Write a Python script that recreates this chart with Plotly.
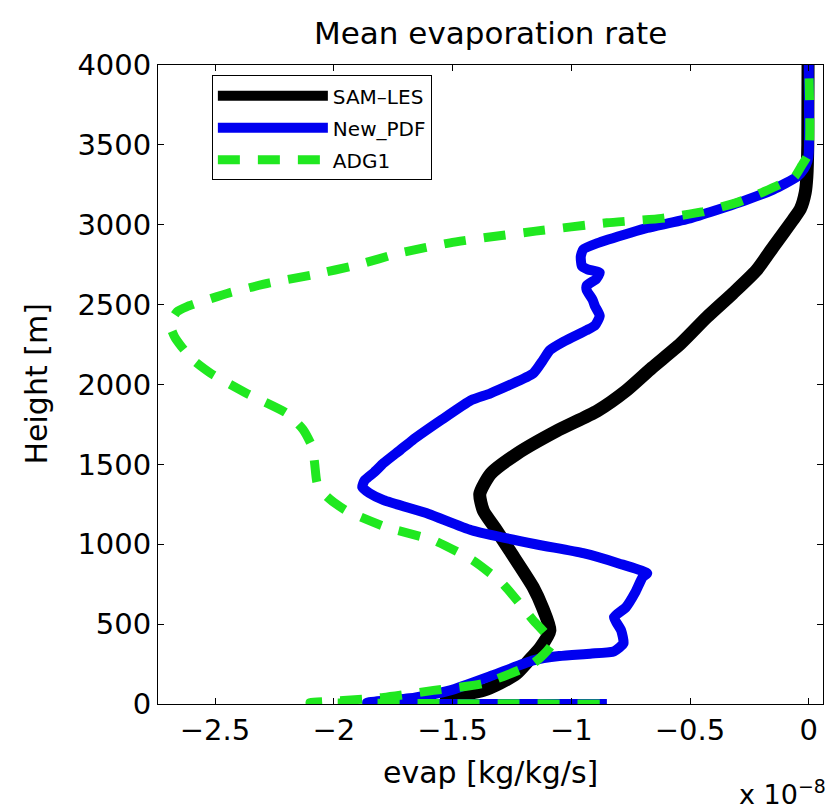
import plotly.graph_objects as go

# ---- data (evap in units of 1e-8 kg/kg/s, height in m) ----
sam_h = [22, 41, 85, 130, 191, 270, 354, 461, 600, 730, 962, 1100, 1210, 1315, 1440, 1565, 1710,
         1835, 1960, 2105, 2255, 2420, 2570, 2715, 2860, 3030, 3100, 3200, 3300, 3500, 4000]
sam_v = [-1.55, -1.51, -1.37, -1.30, -1.23, -1.18, -1.13, -1.09, -1.12, -1.16, -1.26, -1.32, -1.37,
         -1.385, -1.34, -1.23, -1.06, -0.89, -0.77, -0.66, -0.54, -0.43, -0.32, -0.22, -0.15, -0.067,
         -0.035, -0.015, -0.008, -0.004, -0.003]

pdf_h = [0, 8, 40, 85, 180, 273, 300, 315, 330, 380, 461, 543, 605, 700, 793, 818, 880, 944, 1000,
         1088, 1190, 1276, 1320, 1357, 1400, 1450, 1508, 1590, 1650, 1775, 1903, 1945, 2070, 2150,
         2215, 2270, 2340, 2370, 2430, 2490, 2530, 2590, 2620, 2660, 2700, 2720, 2740, 2800, 2845,
         2885, 2950, 2980, 3040, 3140, 3220, 3300, 3350, 3400, 3450, 4000]
pdf_v = [-0.85, -1.86, -1.66, -1.51, -1.33, -1.16, -1.05, -0.92, -0.82, -0.78, -0.79, -0.82, -0.77,
         -0.73, -0.70, -0.68, -0.80, -0.95, -1.15, -1.42, -1.60, -1.79, -1.85, -1.88, -1.87, -1.83,
         -1.79, -1.72, -1.67, -1.55, -1.42, -1.34, -1.16, -1.12, -1.09, -1.03, -0.935, -0.90, -0.88,
         -0.90, -0.91, -0.935, -0.935, -0.895, -0.88, -0.93, -0.955, -0.96, -0.95, -0.89, -0.75,
         -0.68, -0.50, -0.29, -0.15, -0.05, -0.02, -0.005, 0.0, 0.0]

adg_h = [0, 9, 22, 41, 85, 129, 254, 380, 524, 755, 900, 1025, 1107, 1213, 1300, 1383, 1500, 1608,
         1720, 1822, 1947, 2072, 2150, 2235, 2298, 2380, 2455, 2486, 2574, 2636, 2686, 2749, 2824,
         2887, 2920, 2960, 3012, 3040, 3080, 3140, 3200, 3300, 3370, 3450, 4000]
adg_v = [-0.88, -2.10, -1.96, -1.79, -1.58, -1.37, -1.16, -1.08, -1.16, -1.29, -1.415, -1.58, -1.78,
         -1.95, -2.03, -2.07, -2.08, -2.09, -2.13, -2.20, -2.37, -2.52, -2.59, -2.64, -2.67, -2.69,
         -2.66, -2.62, -2.44, -2.27, -2.09, -1.90, -1.72, -1.51, -1.36, -1.15, -0.85, -0.62, -0.45,
         -0.30, -0.20, -0.06, -0.03, 0.0, 0.0]

x_ticks = [-2.5, -2, -1.5, -1, -0.5, 0]
x_ticklabels = ["\u22122.5", "\u22122", "\u22121.5", "\u22121", "\u22120.5", "0"]
y_ticks = [0, 500, 1000, 1500, 2000, 2500, 3000, 3500, 4000]

FONT = "DejaVu Sans, Liberation Sans, Arial, sans-serif"

fig = go.Figure()
fig.add_trace(go.Scatter(x=sam_v, y=sam_h, mode="lines", name="SAM\u2013LES", legendgroup="a",
                         cliponaxis=False,
                         line=dict(color="#000000", width=13, shape="spline", smoothing=0.6)))
fig.add_trace(go.Scatter(x=pdf_v, y=pdf_h, mode="lines", name="New_PDF", legendgroup="b",
                         cliponaxis=False,
                         line=dict(color="#0000f0", width=10, shape="spline", smoothing=0.5)))
fig.add_trace(go.Scatter(x=adg_v, y=adg_h, mode="lines", name="ADG1", legendgroup="c",
                         cliponaxis=False,
                         line=dict(color="#20e820", width=9, dash="22px,18px",
                                   shape="spline", smoothing=0.5)))

fig.update_layout(
    width=829, height=811,
    margin=dict(l=158, r=6, t=65, b=107),
    paper_bgcolor="white", plot_bgcolor="white",
    font=dict(family=FONT, color="black", size=29),
    showlegend=True,
    legend=dict(x=0.081, y=0.984, xanchor="left", yanchor="top",
                bgcolor="white", bordercolor="black", borderwidth=1,
                font=dict(size=20, family=FONT, color="black"),
                itemwidth=110, tracegroupgap=3),
    xaxis=dict(range=[-2.74, 0.06], tickvals=x_ticks, ticktext=x_ticklabels,
               ticks="inside", ticklen=6, tickcolor="black", mirror="ticks",
               showline=True, linecolor="black", linewidth=1, showgrid=False, zeroline=False,
               tickfont=dict(size=29, family=FONT, color="black")),
    yaxis=dict(range=[0, 4000], tickvals=y_ticks,
               ticks="inside", ticklen=6, tickcolor="black", mirror="ticks",
               showline=True, linecolor="black", linewidth=1, showgrid=False, zeroline=False,
               tickfont=dict(size=29, family=FONT, color="black")),
    annotations=[
        dict(text="Mean evaporation rate", xref="paper", yref="paper", x=0.5, y=1,
             yshift=32, showarrow=False, font=dict(size=31, family=FONT), yanchor="middle"),
        dict(text="evap [kg/kg/s]", xref="paper", yref="paper", x=0.5, y=0,
             yshift=-68, showarrow=False, font=dict(size=30, family=FONT), yanchor="middle"),
        dict(text="Height [m]", xref="paper", yref="paper", x=0, y=0.5, xshift=-122,
             textangle=-90, showarrow=False, font=dict(size=30, family=FONT), xanchor="center"),
        dict(text="x 10<sup>\u22128</sup>", xref="paper", yref="paper", x=1, y=0,
             xshift=5, yshift=-88, xanchor="right", showarrow=False,
             font=dict(size=27, family=FONT), yanchor="middle"),
    ],
)

fig.write_html("out.html")
